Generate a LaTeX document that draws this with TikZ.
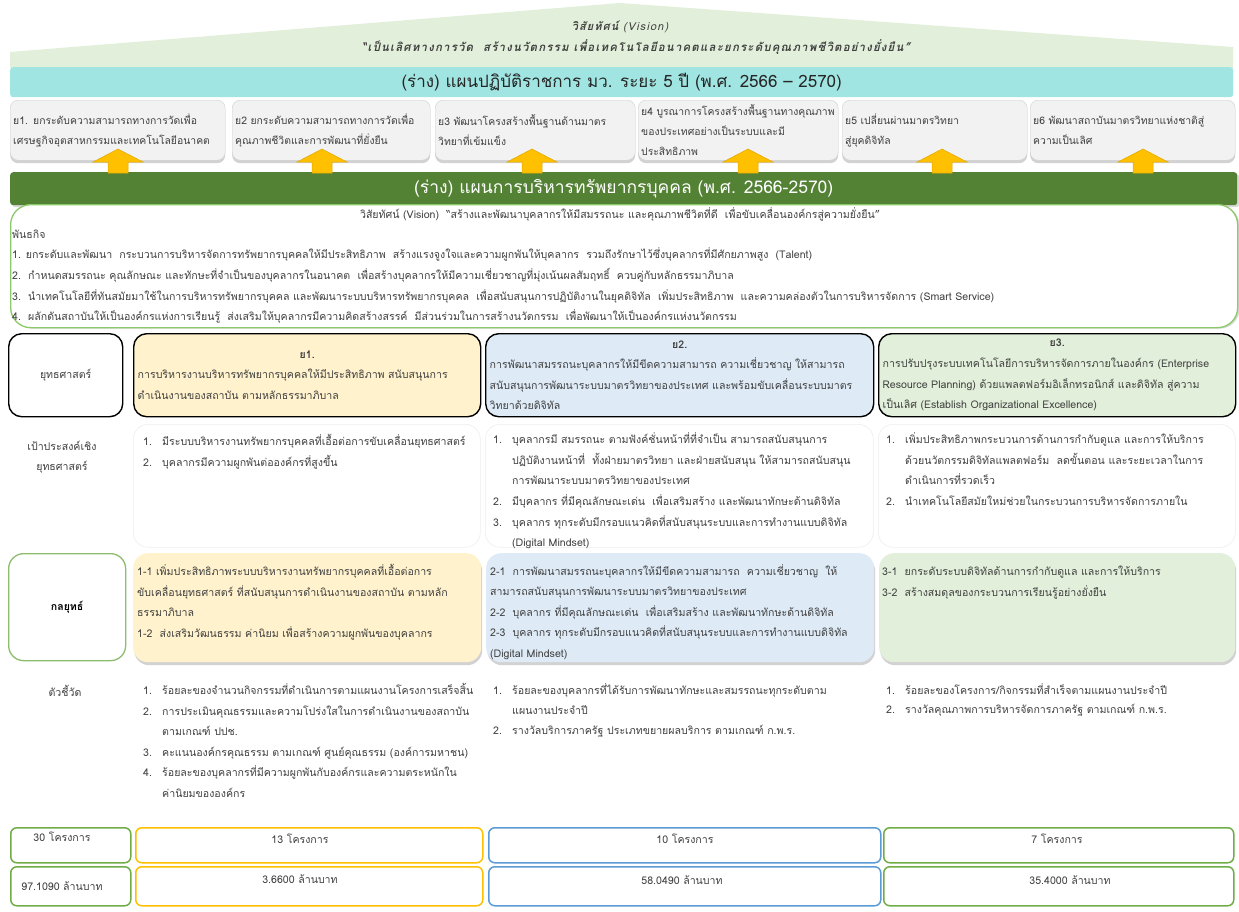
\documentclass[tikz,border=0pt]{standalone}
\usepackage{fontspec}
\setmainfont[Script=Thai]{Loma}
\usetikzlibrary{shadows}
\definecolor{roofgreen}{HTML}{E2EFDA}
\definecolor{tealbar}{HTML}{A0E5E1}
\definecolor{graybox}{HTML}{F2F2F2}
\definecolor{grayline}{HTML}{D0D0D0}
\definecolor{arrowor}{HTML}{FFC000}
\definecolor{arrowline}{HTML}{E0A800}
\definecolor{darkgreen}{HTML}{548235}
\definecolor{linegreen}{HTML}{8CC96A}
\definecolor{yel}{HTML}{FFF2CC}
\definecolor{blu}{HTML}{DEEBF7}
\definecolor{grn}{HTML}{E2EFDA}
\definecolor{txt}{HTML}{404040}
\definecolor{faint}{HTML}{EEEEEE}
\definecolor{bordyel}{HTML}{FFC000}
\definecolor{bordblu}{HTML}{5B9BD5}
\definecolor{bordgrn}{HTML}{70AD47}
\newcommand\itm[1]{\makebox[19pt][l]{#1}}
\newcommand\ind{\hspace*{19pt}}
\begin{document}
\begin{tikzpicture}[x=1pt,y=-1pt,
  tx/.style={font=\fontsize{10.6}{20.6}\selectfont, text=txt, inner sep=0pt, align=left, execute at begin node=\strut},
  gbox/.style={fill=graybox, draw=grayline, line width=0.4pt, rounded corners=8pt, minimum height=60pt, anchor=north west,
     inner xsep=3pt, inner ysep=0pt, align=left, font=\fontsize{10.4}{19.8}\selectfont, text=txt,
     drop shadow={shadow xshift=0pt, shadow yshift=-3pt, opacity=0.35}},
  sbox/.style={draw=black, line width=1.4pt, rounded corners=13pt, anchor=north west, minimum height=83pt,
     inner xsep=4pt, inner ysep=0pt, align=left, font=\fontsize{10.6}{20.6}\selectfont, text=txt},
  tbox/.style={rounded corners=15pt, anchor=north west, minimum height=109pt, inner sep=0pt,
     drop shadow={shadow xshift=1pt, shadow yshift=-3pt, opacity=0.35}},
  goalbox/.style={draw=faint, line width=0.6pt, rounded corners=15pt, anchor=north west, minimum height=123pt, inner sep=0pt},
  bbox/.style={line width=1.5pt, rounded corners=6pt, anchor=north west, inner sep=0pt},
  blockarrow/.style={fill=arrowor, draw=arrowline, line width=0.5pt},
]
\useasboundingbox (0,0) rectangle (1239,911);
\fill[white] (0,0) rectangle (1239,911);

% vision roof
\fill[roofgreen] (10,68) -- (10,52) -- (620,3) -- (1233,47) -- (1233,68) -- cycle;
\node[font=\fontsize{11}{12}\selectfont\addfontfeature{LetterSpace=10}\bfseries\itshape, text=txt] (vis) at (620,27) {วิสัยทัศน์ {\mdseries (Vision)}};
\node[font=\fontsize{11.5}{12}\selectfont\addfontfeature{LetterSpace=10}\bfseries\itshape, text=txt] (vistxt) at (636,47) {“เป็นเลิศทางการวัด\ \ สร้างนวัตกรรม เพื่อเทคโนโลยีอนาคตและยกระดับคุณภาพชีวิตอย่างยั่งยืน”};

% plan bar
\node[fill=tealbar, minimum width=1223pt, minimum height=30pt, anchor=north west, inner sep=0pt, rounded corners=3pt,
  font=\fontsize{17}{19}\selectfont, text=black!85] (plan) at (10,67) {(ร่าง) แผนปฏิบัติราชการ มว. ระยะ 5 ปี (พ.ศ. 2566 – 2570)};

% strategy boxes
\node[gbox, minimum width=215pt, text width=209pt] (s1) at (10,100) {ย1. ยกระดับความสามารถทางการวัดเพื่อ\\เศรษฐกิจอุตสาหกรรมและเทคโนโลยีอนาคต};
\node[gbox, minimum width=198pt, text width=192pt] (s2) at (232,100) {ย2 ยกระดับความสามารถทางการวัดเพื่อ\\คุณภาพชีวิตและการพัฒนาที่ยั่งยืน};
\node[gbox, minimum width=200pt, text width=194pt] (s3) at (435,100) {ย3 พัฒนาโครงสร้างพื้นฐานด้านมาตร\\วิทยาที่เข้มแข็ง};
\node[gbox, minimum width=200pt, text width=194pt] (s4) at (638,100) {\mbox{ย4 บูรณาการโครงสร้างพื้นฐานทางคุณภาพ}\\\mbox{ของประเทศอย่างเป็นระบบและมี}\\\mbox{ประสิทธิภาพ}};
\node[gbox, minimum width=185pt, text width=179pt] (s5) at (842,100) {ย5 เปลี่ยนผ่านมาตรวิทยา\\สู่ยุคดิจิทัล};
\node[gbox, minimum width=205pt, text width=199pt] (s6) at (1030,100) {ย6 พัฒนาสถาบันมาตรวิทยาแห่งชาติสู่\\ความเป็นเลิศ};

% HR plan bar
\node[fill=darkgreen, minimum width=1227pt, minimum height=33pt, anchor=north west, inner sep=0pt, rounded corners=3pt,
  font=\fontsize{17.5}{19}\selectfont, text=white, drop shadow={shadow xshift=2pt, shadow yshift=-2pt, opacity=0.3}] (hr) at (10,172) {(ร่าง) แผนการบริหารทรัพยากรบุคคล (พ.ศ. 2566-2570)};

% block arrows
\foreach \cx in {118,322,532,748,942,1143}
  \draw[blockarrow, shift={(\cx,0)}] (-10,173) -- (-10,162) -- (-25,162) -- (0,149) -- (25,162) -- (10,162) -- (10,173) -- cycle;

% mission box
\node[draw=linegreen, fill=white, line width=1.3pt, rounded corners=20pt, minimum width=1227pt, minimum height=123pt,
  anchor=north west, inner sep=0pt, drop shadow={shadow xshift=2pt, shadow yshift=-1pt, opacity=0.3}] (mbox) at (10,204) {};
\node[tx, anchor=center] (mvis) at (620,214) {วิสัยทัศน์ (Vision)\ \ “สร้างและพัฒนาบุคลากรให้มีสมรรถนะ และคุณภาพชีวิตที่ดี\ \ เพื่อขับเคลื่อนองค์กรสู่ความยั่งยืน”};
\node[tx, anchor=north west] (mis) at (12,229.5) {พันธกิจ\\
1. ยกระดับและพัฒนา\ \ กระบวนการบริหารจัดการทรัพยากรบุคคลให้มีประสิทธิภาพ\ \ สร้างแรงจูงใจและความผูกพันให้บุคลากร\ \ รวมถึงรักษาไว้ซึ่งบุคลากรที่มีศักยภาพสูง\ \ (Talent)\\
2.\ \ กำหนดสมรรถนะ คุณลักษณะ\ และทักษะที่จำเป็นของบุคลากรในอนาคต\ \ เพื่อสร้างบุคลากรให้มีความเชี่ยวชาญที่มุ่งเน้นผลสัมฤทธิ์\ \ ควบคู่กับหลักธรรมาภิบาล\\
3.\ \ นำเทคโนโลยีที่ทันสมัยมาใช้ในการบริหารทรัพยากรบุคคล และพัฒนาระบบบริหารทรัพยากรบุคคล\ \ เพื่อสนับสนุนการปฏิบัติงานในยุคดิจิทัล\ \ เพิ่มประสิทธิภาพ\ \ และความคล่องตัวในการบริหารจัดการ (Smart Service)\\
4.\ \ ผลักดันสถาบันให้เป็นองค์กรแห่งการเรียนรู้\ \ ส่งเสริมให้บุคลากรมีความคิดสร้างสรรค์\ \ มีส่วนร่วมในการสร้างนวัตกรรม\ \ เพื่อพัฒนาให้เป็นองค์กรแห่งนวัตกรรม};

% strategy row
\node[sbox, minimum width=114pt, align=center] (lyut) at (8,333) {ยุทธศาสตร์};
\node[sbox, fill=yel, minimum width=347pt, text width=339pt] (y1) at (133,333) {\makebox[339pt]{\textbf{ย1.}}\\การบริหารงานบริหารทรัพยากรบุคคลให้มีประสิทธิภาพ\ สนับสนุนการ\\ดำเนินงานของสถาบัน ตามหลักธรรมาภิบาล};
\node[sbox, fill=blu, minimum width=388pt, text width=380pt] (y2) at (485,333) {\makebox[380pt]{\textbf{ย2.}}\\การพัฒนาสมรรถนะบุคลากรให้มีขีดความสามารถ\ ความเชี่ยวชาญ\ ให้สามารถ\\สนับสนุนการพัฒนาระบบมาตรวิทยาของประเทศ\ และพร้อมขับเคลื่อนระบบมาตร\\วิทยาด้วยดิจิทัล};
\node[sbox, fill=grn, minimum width=357pt, text width=349pt] (y3) at (878,333) {\makebox[349pt]{\textbf{ย3.}}\\การปรับปรุงระบบเทคโนโลยีการบริหารจัดการภายในองค์กร (Enterprise\\Resource Planning) ด้วยแพลตฟอร์มอิเล็กทรอนิกส์\ และดิจิทัล สู่ความ\\เป็นเลิศ (Establish Organizational Excellence)};

% goals row
\node[tx, align=center] (lgoal) at (62,459) {เป้าประสงค์เชิง\\ยุทธศาสตร์};
\node[goalbox, minimum width=347pt] (g1box) at (133,424) {};
\node[goalbox, minimum width=388pt] (g2box) at (485,424) {};
\node[goalbox, minimum width=357pt] (g3box) at (878,424) {};
\node[tx, anchor=north west] (g1) at (143,434.5) {\itm{1.}มีระบบบริหารงานทรัพยากรบุคคลที่เอื้อต่อการขับเคลื่อนยุทธศาสตร์\\\itm{2.}บุคลากรมีความผูกพันต่อองค์กรที่สูงขึ้น};
\node[tx, anchor=north west] (g2) at (493,432.5) {\itm{1.}บุคลากรมี สมรรถนะ ตามฟังค์ชั่นหน้าที่ที่จำเป็น สามารถสนับสนุนการ\\\ind ปฏิบัติงานหน้าที่\ \ ทั้งฝ่ายมาตรวิทยา และฝ่ายสนับสนุน ให้สามารถสนับสนุน\\\ind การพัฒนาระบบมาตรวิทยาของประเทศ\\\itm{2.}มีบุคลากร ที่มีคุณลักษณะเด่น\ \ เพื่อเสริมสร้าง และพัฒนาทักษะด้านดิจิทัล\\\itm{3.}บุคลากร ทุกระดับมีกรอบแนวคิดที่สนับสนุนระบบและการทำงานแบบดิจิทัล\\\ind (Digital Mindset)};
\node[tx, anchor=north west] (g3) at (886,432.5) {\itm{1.}เพิ่มประสิทธิภาพกระบวนการด้านการกำกับดูแล\ และการให้บริการ\\\ind ด้วยนวัตกรรมดิจิทัลแพลตฟอร์ม\ \ ลดขั้นตอน และระยะเวลาในการ\\\ind ดำเนินการที่รวดเร็ว\\\itm{2.}นำเทคโนโลยีสมัยใหม่ช่วยในกระบวนการบริหารจัดการภายใน};

% tactics row
\node[draw=bordgrn!80, line width=1.3pt, rounded corners=15pt, anchor=north west, minimum width=117pt, minimum height=107pt,
  font=\fontsize{10.6}{12}\selectfont\bfseries, text=black] (ltac) at (8,553) {กลยุทธ์};
\node[tbox, fill=yel, minimum width=348pt] (t1box) at (133,553) {};
\node[tbox, fill=blu, minimum width=388pt] (t2box) at (486,553) {};
\node[tbox, fill=grn, minimum width=356pt] (t3box) at (879,553) {};
\node[tx, anchor=north west] (t1) at (137,564) {1-1 เพิ่มประสิทธิภาพระบบบริหารงานทรัพยากรบุคคลที่เอื้อต่อการ\\ขับเคลื่อนยุทธศาสตร์ ที่สนับสนุนการดำเนินงานของสถาบัน ตามหลัก\\ธรรมาภิบาล\\1-2\ \ ส่งเสริมวัฒนธรรม ค่านิยม เพื่อสร้างความผูกพันของบุคลากร};
\node[tx, anchor=north west] (t2) at (490,564) {2-1\ \ การพัฒนาสมรรถนะบุคลากรให้มีขีดความสามารถ\ \ ความเชี่ยวชาญ\ \ ให้\\สามารถสนับสนุนการพัฒนาระบบมาตรวิทยาของประเทศ\\2-2\ \ บุคลากร ที่มีคุณลักษณะเด่น\ \ เพื่อเสริมสร้าง และพัฒนาทักษะด้านดิจิทัล\\2-3\ \ บุคลากร ทุกระดับมีกรอบแนวคิดที่สนับสนุนระบบและการทำงานแบบดิจิทัล\\(Digital Mindset)};
\node[tx, anchor=north west] (t3) at (882,566) {3-1\ \ ยกระดับระบบดิจิทัลด้านการกำกับดูแล และการให้บริการ\\3-2\ \ สร้างสมดุลของกระบวนการเรียนรู้อย่างยั่งยืน};

% indicators row
\node[tx] (lind) at (65,692) {ตัวชี้วัด};
\node[tx, anchor=north west] (i1) at (143,683) {\itm{1.}ร้อยละของจำนวนกิจกรรมที่ดำเนินการตามแผนงานโครงการเสร็จสิ้น\\\itm{2.}การประเมินคุณธรรมและความโปร่งใสในการดำเนินงานของสถาบัน\\\ind ตามเกณฑ์ ปปช.\\\itm{3.}คะแนนองค์กรคุณธรรม\ ตามเกณฑ์ ศูนย์คุณธรรม (องค์การมหาชน)\\\itm{4.}ร้อยละของบุคลากรที่มีความผูกพันกับองค์กรและความตระหนักใน\\\ind ค่านิยมขององค์กร};
\node[tx, anchor=north west, font=\fontsize{10.6}{20}\selectfont] (i2) at (493,683) {\itm{1.}ร้อยละของบุคลากรที่ได้รับการพัฒนาทักษะและสมรรถนะทุกระดับตาม\\\ind แผนงานประจำปี\\\itm{2.}รางวัลบริการภาครัฐ ประเภทขยายผลบริการ ตามเกณฑ์ ก.พ.ร.};
\node[tx, anchor=north west, font=\fontsize{10.6}{19.5}\selectfont] (i3) at (886,683) {\itm{1.}ร้อยละของโครงการ/กิจกรรมที่สำเร็จตามแผนงานประจำปี\\\itm{2.}รางวัลคุณภาพการบริหารจัดการภาครัฐ ตามเกณฑ์ ก.พ.ร.};

% bottom boxes
\node[bbox, draw=bordgrn, minimum width=120pt, minimum height=35pt] (p0) at (10,827) {};
\node[bbox, draw=bordyel, minimum width=347pt, minimum height=35pt] (p1) at (135,827) {};
\node[bbox, draw=bordblu, minimum width=392pt, minimum height=35pt] (p2) at (488,827) {};
\node[bbox, draw=bordgrn, minimum width=350pt, minimum height=35pt] (p3) at (883,827) {};
\node[bbox, draw=bordgrn, minimum width=120pt, minimum height=39pt] (b0) at (10,866) {};
\node[bbox, draw=bordyel, minimum width=347pt, minimum height=39pt] (b1) at (135,866) {};
\node[bbox, draw=bordblu, minimum width=392pt, minimum height=39pt] (b2) at (488,866) {};
\node[bbox, draw=bordgrn, minimum width=350pt, minimum height=39pt] (b3) at (883,866) {};
\node[tx] (p0t) at (62,837) {30 โครงการ};
\node[tx] (p1t) at (300,839) {13 โครงการ};
\node[tx] (p2t) at (685,839) {10 โครงการ};
\node[tx] (p3t) at (1057,839) {7 โครงการ};
\node[tx] (b0t) at (62,886) {97.1090 ล้านบาท};
\node[tx] (b1t) at (300,879) {3.6600 ล้านบาท};
\node[tx] (b2t) at (682,880) {58.0490 ล้านบาท};
\node[tx] (b3t) at (1070,880) {35.4000 ล้านบาท};
\end{tikzpicture}
\end{document}
